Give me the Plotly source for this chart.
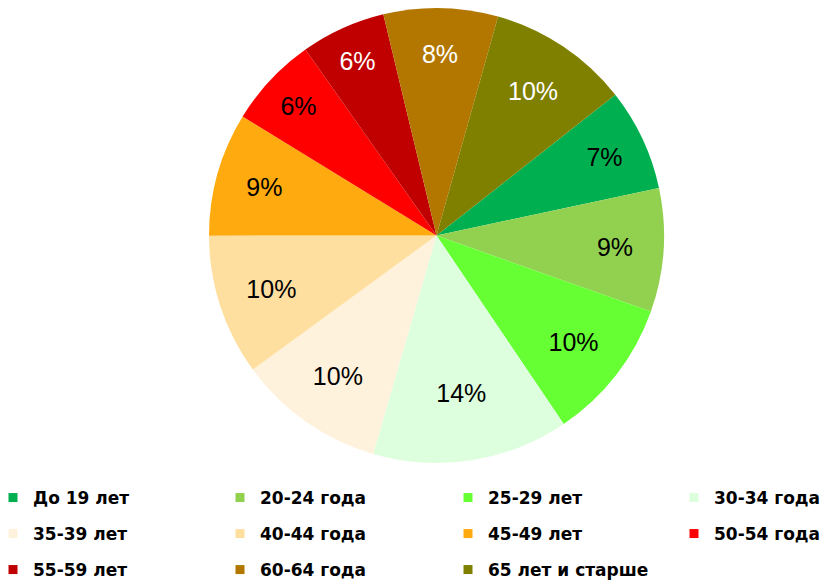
import plotly.graph_objects as go

categories = ["До 19 лет", "20-24 года", "25-29 лет", "30-34 года", "35-39 лет",
              "40-44 года", "45-49 лет", "50-54 года", "55-59 лет", "60-64 года",
              "65 лет и старше"]
values = [7.25, 8.75, 10.1, 13.9, 10.45, 10.0, 8.75, 6.45, 6.0, 8.1, 10.0]
colors = ["#00B050", "#92D050", "#66FF33", "#DDFFDD", "#FFF2DC",
          "#FFDF9F", "#FFAB10", "#FF0000", "#C00000", "#B37700", "#808000"]
text_colors = ["black", "black", "black", "black", "black",
               "black", "black", "black", "white", "white", "white"]

W, H = 823, 580
cx, cy, r = 436.5, 235.5, 227.5
FONT = "Liberation Sans, Arial, sans-serif"
LEG_FONT = "DejaVu Sans, Liberation Sans, Arial, sans-serif"

fig = go.Figure()
fig.add_trace(go.Pie(
    labels=categories,
    values=values,
    sort=False,
    direction="clockwise",
    rotation=51.8,
    marker=dict(colors=colors, line=dict(width=0)),
    texttemplate="%{percent:.0%}",
    textposition="inside",
    insidetextorientation="horizontal",
    textfont=dict(family=FONT, size=25, color=text_colors),
    domain=dict(x=[(cx - r) / W, (cx + r) / W], y=[1 - (cy + r) / H, 1 - (cy - r) / H]),
    hoverinfo="label+percent",
    showlegend=False,
))

# legend: 4 columns x 3 rows, filled row by row
ncols = 4
col_text_x = [31, 258, 486, 712]
row_center_y = [498, 534, 570]
legend_layout = {}
for i, (cat, col) in enumerate(zip(categories, colors)):
    name = "legend" if i == 0 else f"legend{i + 1}"
    fig.add_trace(go.Scatter(
        x=[None], y=[None], mode="markers", name=cat,
        marker=dict(symbol="square", size=9, color=col, line=dict(width=0)),
        legend=name, showlegend=True, hoverinfo="skip",
    ))
    c, rw = i % ncols, i // ncols
    legend_layout[name] = dict(
        x=(col_text_x[c] - 38) / W, xanchor="left",
        y=1 - row_center_y[rw] / H, yanchor="middle",
        font=dict(family=LEG_FONT, size=17, color="black", weight="bold"),
        bgcolor="rgba(0,0,0,0)", borderwidth=0,
    )

fig.update_layout(
    width=W, height=H,
    margin=dict(l=0, r=0, t=0, b=0, autoexpand=False),
    paper_bgcolor="white",
    plot_bgcolor="white",
    uniformtext=dict(minsize=25, mode="show"),
    xaxis=dict(visible=False),
    yaxis=dict(visible=False),
    **legend_layout,
)

fig.write_html("out.html")
